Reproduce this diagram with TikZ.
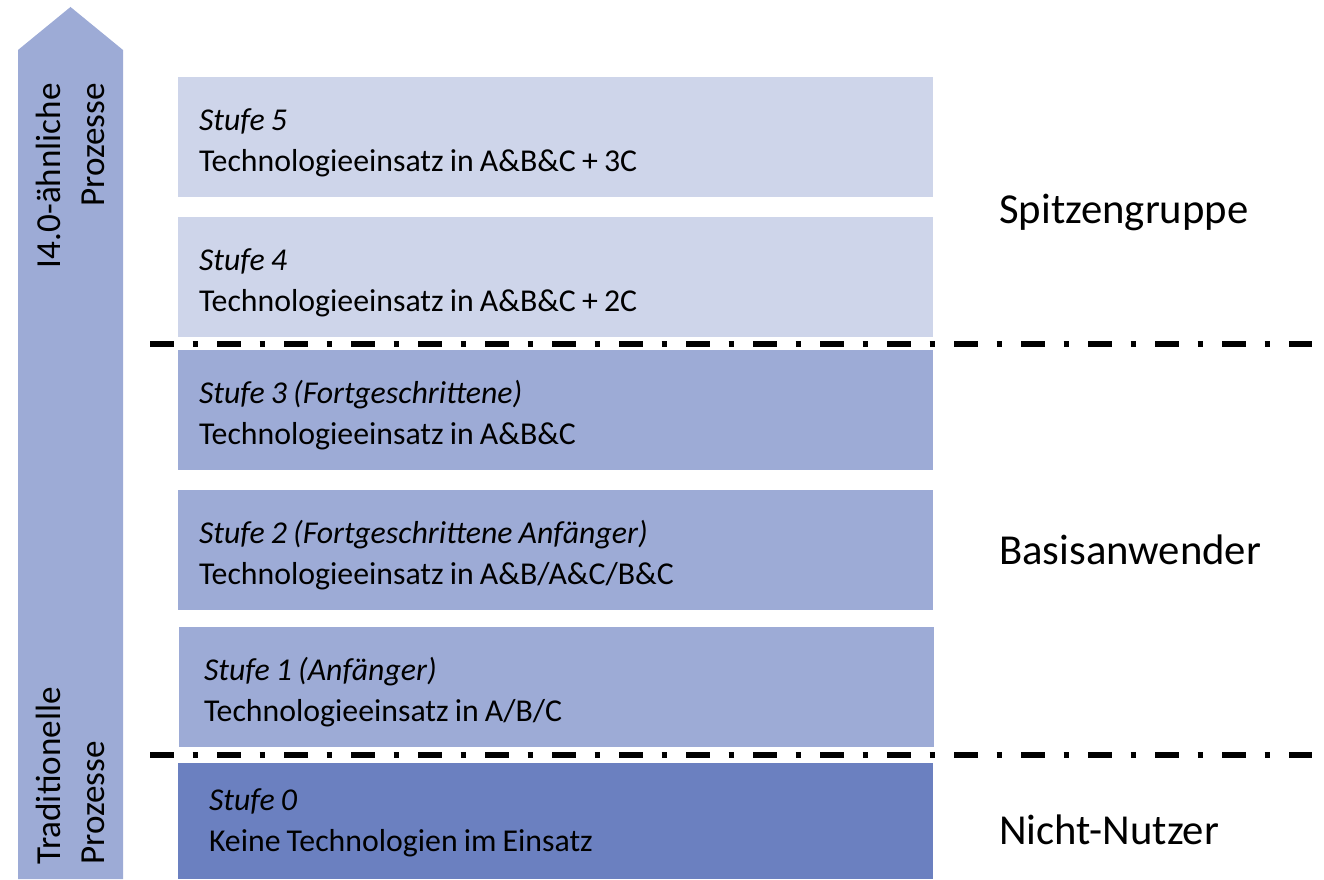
\documentclass[tikz,border=0pt]{standalone}
\usepackage{fontspec}
\setmainfont{Carlito}[WordSpace=0.85]
\usepackage{tikz}
\usetikzlibrary{positioning}

\definecolor{lightlevel}{HTML}{CED5EA}
\definecolor{midlevel}{HTML}{9DABD6}
\definecolor{darklevel}{HTML}{6B80C0}

\begin{document}
\begin{tikzpicture}[
    level/.style={rectangle, minimum width=15.1cm, minimum height=2.4cm, inner sep=0pt},
    leveltext/.style={align=left, inner sep=0pt, font=\fontsize{18.1}{23.3}\selectfont},
    group/.style={anchor=west, font=\fontsize{24.3}{29}\selectfont},
    side/.style={rotate=90, font=\fontsize{20}{25.5}\selectfont},
    border/.style={line width=0.12cm, dash pattern=on 0.47cm off 0.38cm on 0.11cm off 0.38cm}
]
    \useasboundingbox (0,0) rectangle (26.48,17.58);

    % Arrow on the left
    \fill[midlevel] (0.36,0) -- (0.36,16.58) -- (1.41,17.44) -- (2.46,16.58) -- (2.46,0) -- cycle;
    \node[side, anchor=east, align=right] (top) at (1.41,16.04) {I4.0-ähnliche\\Prozesse};
    \node[side, anchor=west, align=left] (bottom) at (1.41,0.16) {Traditionelle\\Prozesse};

    % Levels
    \node[level, fill=lightlevel] (s5) at (11.11,14.84) {};
    \node[level, fill=lightlevel] (s4) at (11.11,12.04) {};
    \node[level, fill=midlevel] (s3) at (11.11,9.38) {};
    \node[level, fill=midlevel] (s2) at (11.11,6.58) {};
    \node[level, fill=midlevel] (s1) at (11.13,3.84) {};
    \node[level, fill=darklevel, minimum height=2.32cm] (s0) at (11.11,1.16) {};

    \node[leveltext, right=0.42cm of s5.west, yshift=-0.11cm] (t5) {\textit{Stufe 5}\\Technologieeinsatz in A\&B\&C + 3C};
    \node[leveltext, right=0.42cm of s4.west, yshift=-0.11cm] (t4) {\textit{Stufe 4}\\Technologieeinsatz in A\&B\&C + 2C};
    \node[leveltext, right=0.42cm of s3.west, yshift=-0.11cm] (t3) {\textit{Stufe 3 (Fortgeschrittene)}\\Technologieeinsatz in A\&B\&C};
    \node[leveltext, right=0.42cm of s2.west, yshift=-0.11cm] (t2) {\textit{Stufe 2 (Fortgeschrittene Anfänger)}\\Technologieeinsatz in A\&B/A\&C/B\&C};
    \node[leveltext, right=0.50cm of s1.west, yshift=-0.11cm] (t1) {\textit{Stufe 1 (Anfänger)}\\Technologieeinsatz in A/B/C};
    \node[leveltext, right=0.62cm of s0.west, yshift=-0.04cm] (t0) {\textit{Stufe 0}\\Keine Technologien im Einsatz};

    % Group borders
    \coordinate (b1l) at (3.0,10.70);
    \coordinate (b1r) at (26.24,10.70);
    \coordinate (b2l) at (3.0,2.48);
    \coordinate (b2r) at (26.24,2.48);
    \draw[border] (b1l) -- (b1r);
    \draw[border] (b2l) -- (b2r);

    % Groups
    \node[group] (g1) at (19.86,13.34) {Spitzengruppe};
    \node[group] (g2) at (19.86,6.58) {Basisanwender};
    \node[group] (g3) at (19.86,0.98) {Nicht-Nutzer};
\end{tikzpicture}
\end{document}
